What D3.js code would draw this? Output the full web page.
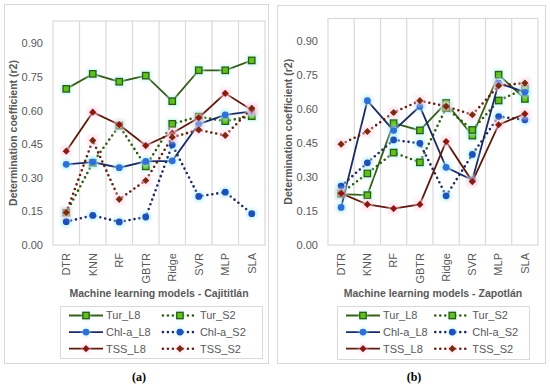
<!DOCTYPE html>
<html><head><meta charset="utf-8">
<script src="https://cdn.jsdelivr.net/npm/d3@7"></script>
<style>body{margin:0;background:#fff}svg{display:block}</style>
</head><body>
<svg id="c" width="550" height="386"></svg>
<script>
const categories = ["DTR","KNN","RF","GBTR","Ridge","SVR","MLP","SLA"];
const yTicks = [0,0.15,0.30,0.45,0.60,0.75,0.90];
const seriesNames = ["Tur_L8","Tur_S2","Chl-a_L8","Chl-a_S2","TSS_L8","TSS_S2"];

// Cajititlán
const turL8_caj  = [0.697,0.764,0.729,0.756,0.642,0.780,0.780,0.824];
const turS2_caj  = [0.144,0.367,0.533,0.351,0.541,0.573,0.553,0.575];
const chlL8_caj  = [0.360,0.370,0.345,0.373,0.376,0.540,0.581,0.597];
const chlS2_caj  = [0.104,0.132,0.103,0.125,0.447,0.217,0.236,0.140];
const tssL8_caj  = [0.419,0.593,0.537,0.444,0.499,0.568,0.677,0.603];
const tssS2_caj  = [0.145,0.467,0.204,0.288,0.481,0.514,0.489,0.610];
// Zapotlán
const turL8_zap  = [0.225,0.220,0.538,0.506,0.627,0.483,0.752,0.645];
const turS2_zap  = [0.228,0.316,0.408,0.365,0.605,0.508,0.638,0.690];
const chlL8_zap  = [0.166,0.637,0.505,0.612,0.343,0.287,0.715,0.675];
const chlS2_zap  = [0.260,0.363,0.464,0.449,0.217,0.400,0.567,0.553];
const tssL8_zap  = [0.228,0.179,0.161,0.179,0.457,0.280,0.531,0.579];
const tssS2_zap  = [0.445,0.501,0.585,0.637,0.612,0.575,0.703,0.715];

const styles = {
  "Tur_L8":  {line:"#355e1a", dash:null, marker:"square", fill:"#5cc21e", stroke:"#2f5a12", glow:"#aef5ee"},
  "Tur_S2":  {line:"#2f5a12", dash:"0 5", marker:"square", fill:"#5cc21e", stroke:"#2f5a12", glow:"#aef5ee"},
  "Chl-a_L8":{line:"#1c2a63", dash:null, marker:"circle", fill:"#2f6fd6", stroke:"#2f6fd6", glow:"#aeecf8"},
  "Chl-a_S2":{line:"#1c2a63", dash:"0 5", marker:"circle", fill:"#1f4fb8", stroke:"#1f4fb8", glow:"#aeecf8"},
  "TSS_L8":  {line:"#5e1a0c", dash:null, marker:"diamond", fill:"#8a1a10", stroke:"#8a1a10", glow:"#ffd0e4"},
  "TSS_S2":  {line:"#6a1a0c", dash:"0 5", marker:"diamond", fill:"#7a2a10", stroke:"#7a2a10", glow:"#ffd0e4"}
};

const panels = [
  {box:[4,4,264,359], plot:[53,21,265,245], ylab:13, title:"Machine learning models - Cajititlán", tag:"(a)",
   legend:[60,306,202,52],
   data:[turL8_caj,turS2_caj,chlL8_caj,chlS2_caj,tssL8_caj,tssS2_caj]},
  {box:[277,5,268,358], plot:[328,18.5,538,245], ylab:288, title:"Machine learning models - Zapotlán", tag:"(b)",
   legend:[337,306,192,53],
   data:[turL8_zap,turS2_zap,chlL8_zap,chlS2_zap,tssL8_zap,tssS2_zap]}
];

const svg = d3.select("#c");
const defs = svg.append("defs");
defs.append("filter").attr("id","blur").attr("x","-50%").attr("y","-50%").attr("width","200%").attr("height","200%")
  .append("feGaussianBlur").attr("stdDeviation",1.5);

const grid = "#d9d9d9", txt = "#595959";

function drawMarker(g, type, x, y, st, s) {
  s = s || 1;
  if (type==="square") {
    g.append("rect").attr("x",x-5.5*s).attr("y",y-5.5*s).attr("width",11*s).attr("height",11*s)
      .attr("fill",st.glow).attr("opacity",0.6).attr("filter","url(#blur)");
    g.append("rect").attr("x",x-3.2).attr("y",y-3.2).attr("width",6.4).attr("height",6.4)
      .attr("fill",st.fill).attr("stroke",st.stroke).attr("stroke-width",1.3);
  } else if (type==="circle") {
    g.append("circle").attr("cx",x).attr("cy",y).attr("r",6*s)
      .attr("fill",st.glow).attr("opacity",0.6).attr("filter","url(#blur)");
    g.append("circle").attr("cx",x).attr("cy",y).attr("r",3.4).attr("fill",st.fill);
  } else {
    g.append("rect").attr("x",x-5.5*s).attr("y",y-5.5*s).attr("width",11*s).attr("height",11*s)
      .attr("fill",st.glow).attr("opacity",0.55).attr("filter","url(#blur)");
    g.append("path").attr("d",`M${x},${y-3.6}L${x+3.6},${y}L${x},${y+3.6}L${x-3.6},${y}Z`).attr("fill",st.fill);
  }
}

panels.forEach(p => {
  const g = svg.append("g");
  g.append("rect").attr("x",p.box[0]+0.5).attr("y",p.box[1]+0.5).attr("width",p.box[2]).attr("height",p.box[3])
    .attr("fill","#fff").attr("stroke","#d9d9d9").attr("stroke-width",1);
  const [x0,y0,x1,y1] = p.plot;
  const x = d3.scaleBand().domain(categories).range([x0,x1]).padding(0);
  const y = d3.scaleLinear().domain([0,1]).range([y1,y0]);

  // vertical gridlines
  g.append("g").selectAll("line").data(categories.slice(1)).join("line")
    .attr("x1",d=>x(d)).attr("x2",d=>x(d)).attr("y1",y0).attr("y2",y1)
    .attr("stroke",grid).attr("stroke-width",1.2);
  g.append("rect").attr("x",x0).attr("y",y0).attr("width",x1-x0).attr("height",y1-y0)
    .attr("fill","none").attr("stroke",grid).attr("stroke-width",1.2);

  // y axis
  const ya = g.append("g").attr("transform",`translate(${x0},0)`)
    .call(d3.axisLeft(y).tickValues(yTicks).tickFormat(d3.format(".2f")).tickSize(0).tickPadding(10));
  ya.select(".domain").remove();
  ya.selectAll("text").attr("fill",txt).style("font-family","Liberation Sans, Arial, sans-serif").style("font-size","11px");

  // x axis
  const xa = g.append("g").attr("transform",`translate(0,${y1})`)
    .call(d3.axisBottom(x).tickSize(0).tickPadding(0));
  xa.select(".domain").remove();
  xa.selectAll("text").attr("fill",txt).style("font-family","Liberation Sans, Arial, sans-serif").style("font-size","11px")
    .attr("transform","rotate(-90)").attr("text-anchor","end").attr("x",-8).attr("y",0).attr("dy","0.35em");

  // y label
  g.append("text").attr("transform",`translate(${p.ylab},${(y0+y1)/2}) rotate(-90)`)
    .attr("text-anchor","middle").attr("dy","0.35em").attr("fill",txt)
    .style("font-family","Liberation Sans, Arial, sans-serif").style("font-size","10.5px").style("font-weight","bold")
    .text("Determination coefficient (r2)");
  // x title
  g.append("text").attr("x",(x0+x1)/2+0).attr("y",297).attr("text-anchor","middle").attr("fill",txt)
    .style("font-family","Liberation Sans, Arial, sans-serif").style("font-size","10.5px").style("font-weight","bold")
    .text(p.title);

  // series
  const line = d3.line().x((d,i)=>x(categories[i])+x.bandwidth()/2).y(d=>y(d));
  seriesNames.forEach((name,si) => {
    const st = styles[name];
    const vals = p.data[si];
    const sg = g.append("g");
    sg.append("path").datum(vals).attr("d",line).attr("fill","none").attr("stroke",st.line)
      .attr("stroke-width", st.dash ? 2.6 : 1.8).attr("stroke-linecap", st.dash ? "round":"butt")
      .attr("stroke-dasharray", st.dash);
    vals.forEach((v,i) => drawMarker(sg, st.marker, x(categories[i])+x.bandwidth()/2, y(v), st));
  });

  // legend
  const [lx,ly,lw,lh] = p.legend;
  const lg = g.append("g");
  lg.append("rect").attr("x",lx+0.5).attr("y",ly+0.5).attr("width",lw).attr("height",lh)
    .attr("fill","#fff").attr("stroke","#d9d9d9");
  const colW = lw/2;
  seriesNames.forEach((name,si) => {
    const st = styles[name];
    const col = si%2, row = Math.floor(si/2);
    const cx0 = lx + 9 + col*colW*0.93, cy = ly + 9.5 + row*16.6;
    lg.append("line").attr("x1",cx0).attr("x2",cx0+34).attr("y1",cy).attr("y2",cy)
      .attr("stroke",st.line).attr("stroke-width", st.dash?2.6:1.8)
      .attr("stroke-linecap", st.dash?"round":"butt").attr("stroke-dasharray", st.dash);
    drawMarker(lg, st.marker, cx0+17, cy, st, 0.8);
    lg.append("text").attr("x",cx0+37).attr("y",cy).attr("dy","0.35em").attr("fill",txt)
      .style("font-family","Liberation Sans, Arial, sans-serif").style("font-size","11px").text(name);
  });

  // tag
  svg.append("text").attr("x",(p.box[0]+p.box[0]+p.box[2])/2+3).attr("y",381).attr("text-anchor","middle")
    .attr("fill","#000").style("font-family","Liberation Serif, Times New Roman, serif").style("font-size","12px")
    .style("font-weight","bold").text(p.tag);
});
</script>
</body></html>
